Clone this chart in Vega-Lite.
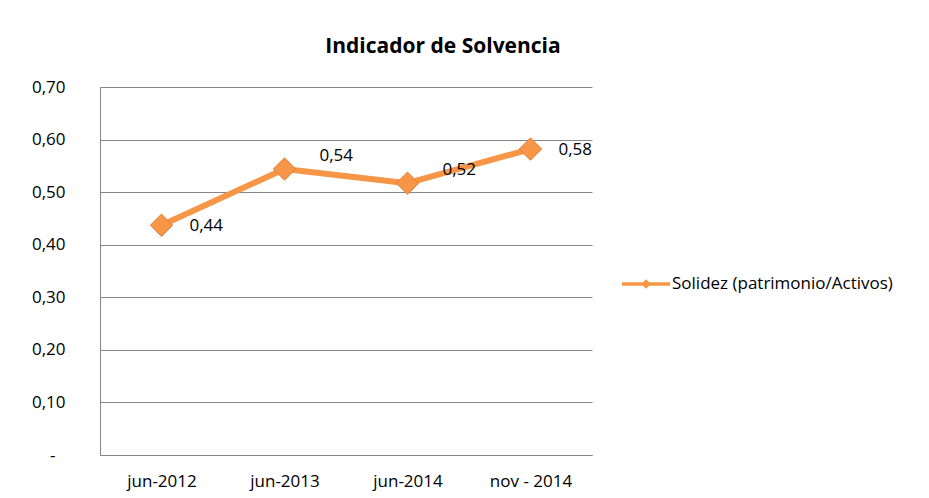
{
  "$schema": "https://vega.github.io/schema/vega-lite/v6.json",
  "width": 492,
  "height": 368,
  "autosize": "none",
  "padding": {"left": 100, "top": 87, "right": 337, "bottom": 43},
  "background": "white",
  "config": {"view": {"stroke": null}},
  "title": {
    "text": "Indicador de Solvencia",
    "font": "Open Sans",
    "fontSize": 21,
    "fontWeight": "bold",
    "color": "black",
    "anchor": "middle",
    "dx": 97,
    "offset": 4,
    "baseline": "alphabetic"
  },
  "data": {
    "values": [
      {"fecha": "jun-2012", "valor": 0.437, "etiqueta": "0,44", "serie": "Solidez (patrimonio/Activos)"},
      {"fecha": "jun-2013", "valor": 0.544, "etiqueta": "0,54", "serie": "Solidez (patrimonio/Activos)"},
      {"fecha": "jun-2014", "valor": 0.517, "etiqueta": "0,52", "serie": "Solidez (patrimonio/Activos)"},
      {"fecha": "nov - 2014", "valor": 0.582, "etiqueta": "0,58", "serie": "Solidez (patrimonio/Activos)"}
    ]
  },
  "encoding": {
    "x": {
      "field": "fecha",
      "type": "ordinal",
      "sort": null,
      "scale": {"type": "point", "padding": 0.5},
      "axis": {
        "title": null,
        "labelAngle": 0,
        "ticks": false,
        "domain": true,
        "domainColor": "#868686",
        "labelFont": "Open Sans",
        "labelFontSize": 17,
        "labelColor": "black",
        "labelPadding": 18,
        "grid": false
      }
    },
    "y": {
      "field": "valor",
      "type": "quantitative",
      "scale": {"domain": [0, 0.7], "nice": false, "zero": true},
      "axis": {
        "title": null,
        "values": [0, 0.1, 0.2, 0.3, 0.4, 0.5, 0.6, 0.7],
        "labelExpr": "datum.value == 0 ? '-' : replace(format(datum.value, '.2f'), '.', ',')",
        "ticks": false,
        "domain": true,
        "domainColor": "#868686",
        "grid": true,
        "gridColor": "#868686",
        "gridWidth": 1,
        "labelFont": "Open Sans",
        "labelFontSize": 17,
        "labelColor": "black",
        "labelPadding": {"condition": {"test": "datum.value == 0", "value": 45}, "value": 35}
      }
    }
  },
  "layer": [
    {
      "mark": {"type": "line", "strokeWidth": 6, "strokeJoin": "round"},
      "encoding": {
        "color": {
          "field": "serie",
          "type": "nominal",
          "scale": {"range": ["#F79646"]},
          "legend": {
            "orient": "none",
            "legendX": 522,
            "legendY": 173,
            "padding": 0,
            "title": null,
            "symbolType": "M-1,-0.07L1,-0.07L1,0.07L-1,0.07Z M0,-0.2L0.2,0L0,0.2L-0.2,0Z",
            "symbolSize": 2304,
            "labelFont": "Open Sans",
            "labelFontSize": 17,
            "labelColor": "black",
            "labelOffset": 2,
            "labelLimit": 0,
            "encode": {
              "symbols": {
                "update": {
                  "fill": {"value": "#F79646"},
                  "stroke": {"value": "#F79646"},
                  "strokeWidth": {"value": 0}
                }
              }
            }
          }
        }
      }
    },
    {
      "mark": {"type": "point", "shape": "diamond", "filled": true, "size": 500, "color": "#F79646", "stroke": "#E07F36", "strokeWidth": 1, "opacity": 1}
    },
    {
      "transform": [{"filter": "datum.etiqueta == '0,44' || datum.etiqueta == '0,58'"}],
      "mark": {"type": "text", "align": "left", "baseline": "middle", "dx": 28, "dy": 1, "font": "Open Sans", "fontSize": 17, "color": "black"},
      "encoding": {"text": {"field": "etiqueta"}}
    },
    {
      "transform": [{"filter": "datum.etiqueta == '0,54' || datum.etiqueta == '0,52'"}],
      "mark": {"type": "text", "align": "left", "baseline": "middle", "dx": 35, "dy": -13, "font": "Open Sans", "fontSize": 17, "color": "black"},
      "encoding": {"text": {"field": "etiqueta"}}
    }
  ]
}
